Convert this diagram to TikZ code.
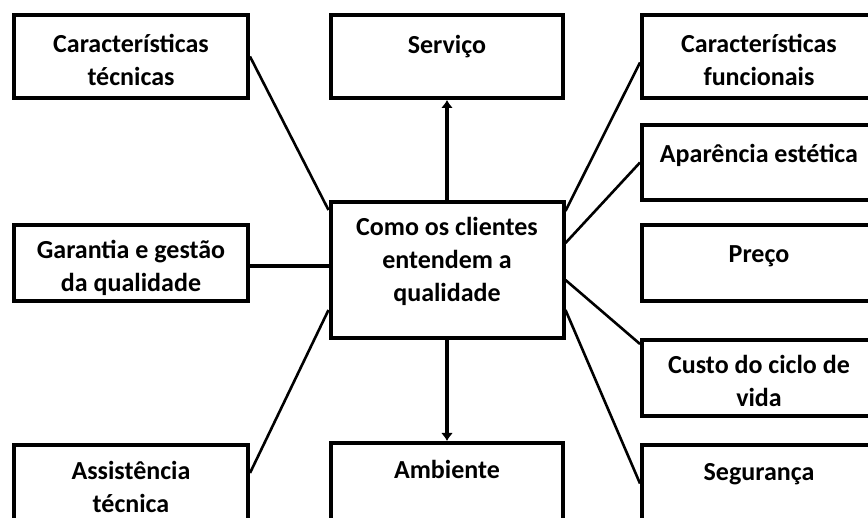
\documentclass[tikz,border=0pt]{standalone}
\usepackage{fontspec}
\setmainfont{Carlito}
\usetikzlibrary{arrows.meta,positioning,calc}

\begin{document}
\begin{tikzpicture}[x=1pt,y=-1pt,font=\fontsize{26}{33}\selectfont\bfseries,>={Latex[length=8pt,width=12pt]}]
\tikzstyle{box}=[draw,line width=4pt,minimum width=234pt,minimum height=77pt,align=center,inner sep=0pt,text height=58pt,text depth=0pt]
\tikzstyle{single}=[text height=17pt,text depth=23pt]
\tikzstyle{link}=[line width=2.6pt]
\useasboundingbox (0,0) rectangle (868,518);
\clip (0,0) rectangle (868,518);
% centre
\node[box,minimum width=233pt,minimum height=136pt,text height=63pt] (quality) at (447,270) {Como os clientes\\entendem a\\qualidade};
\node[box,single,minimum width=232pt,minimum height=83pt] (service) at (447,56.5) {Serviço};
\node[box,single,minimum width=232pt] (environment) at (447,481.5) {Ambiente};
% left column
\node[box,minimum height=83pt] (technical) at (131,56.5) {Características\\técnicas};
\node[box,minimum height=76pt] (warranty) at (131,263) {Garantia e gestão\\da qualidade};
\node[box] (assistance) at (131,483.5) {Assistência\\técnica};
% right column
\node[box,minimum height=83pt] (functional) at (759,56.5) {Características\\funcionais};
\node[box,single,text depth=17pt,minimum height=75pt] (aesthetic) at (759,162.5) {Aparência estética};
\node[box,single,text depth=17pt,minimum height=76pt] (price) at (759,263) {Preço};
\node[box,minimum height=76pt] (lifecycle) at (759,378) {Custo do ciclo de\\vida};
\node[box,single] (safety) at (759,483.5) {Segurança};
% links
\draw[->,line width=3.5pt] (quality) -- (service);
\draw[->,line width=3.5pt] (quality) -- (environment);
\draw[line width=3.5pt] ($(warranty.east)+(0,3)$) -- ($(warranty.east -| quality.west)+(0,3)$);
\draw[link] (technical.east) -- ($(quality.north west)+(0,10)$);
\draw[link] ($(quality.south west)+(0,-30)$) -- ($(assistance.north east)+(0,30)$);
\draw[link] ($(quality.north east)+(0,11)$) -- ($(functional.west)+(0,6)$);
\draw[link] ($(quality.north east)+(0,43)$) -- (aesthetic.west);
\draw[link] ($(quality.east)+(0,10)$) -- ($(lifecycle.north west)+(0,6)$);
\draw[link] ($(quality.east)+(0,40)$) -- (safety.west);
\end{tikzpicture}
\end{document}
